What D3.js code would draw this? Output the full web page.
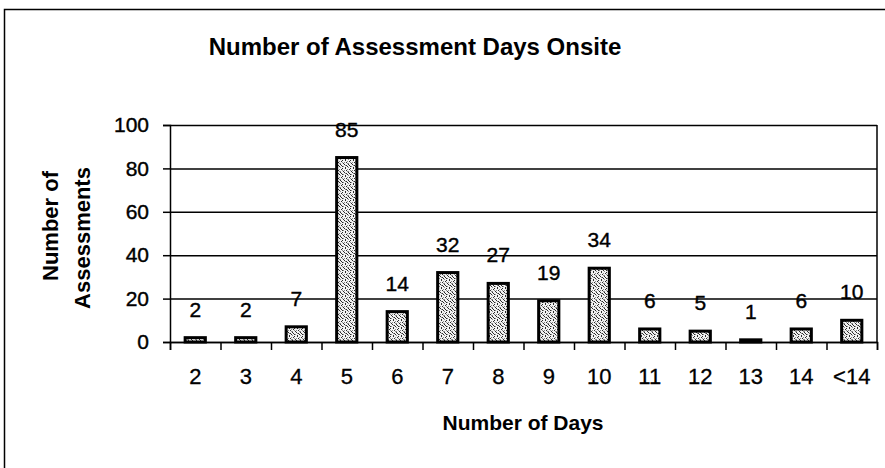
<!DOCTYPE html>
<html>
<head>
<meta charset="utf-8">
<script src="https://cdn.jsdelivr.net/npm/d3@7"></script>
<style>
  html, body { margin: 0; padding: 0; background: #fff; }
  svg { display: block; }
  text { font-family: "Liberation Sans", Arial, sans-serif; fill: #000; }
</style>
</head>
<body>
<script>
const categories = ["2", "3", "4", "5", "6", "7", "8", "9", "10", "11", "12", "13", "14", "<14"];
const values = [2, 2, 7, 85, 14, 32, 27, 19, 34, 6, 5, 1, 6, 10];
const yTicks = [0, 20, 40, 60, 80, 100];
const titleText = "Number of Assessment Days Onsite";
const xTitle = "Number of Days";
const yTitleLines = ["Number of", "Assessments"];

const W = 885, H = 468;
const plot = { left: 170, right: 877, top: 125, bottom: 342 };

const svg = d3.select("body").append("svg").attr("width", W).attr("height", H);

// speckle pattern for bars
const defs = svg.append("defs");
const pat = defs.append("pattern").attr("id", "stip").attr("patternUnits", "userSpaceOnUse")
  .attr("width", 8).attr("height", 8);
pat.append("rect").attr("width", 8).attr("height", 8).attr("fill", "#f2f2f2");
const darkDots = [[1,0],[5,1],[2,2],[7,3],[0,4],[4,4],[3,6],[6,6],[1,7],[5,5],[2,5],[6,0]];
const midDots = [[3,1],[0,2],[6,2],[4,3],[1,5],[7,6],[4,7],[3,3]];
darkDots.forEach(([a,b]) => pat.append("rect").attr("x", a).attr("y", b)
  .attr("width", 1).attr("height", 1).attr("fill", "#2a2a2a"));
midDots.forEach(([a,b]) => pat.append("rect").attr("x", a).attr("y", b)
  .attr("width", 1).attr("height", 1).attr("fill", "#8a8a8a"));

// outer frame (left & top edges visible)
svg.append("path").attr("d", `M4.5,${H} L4.5,9.5 L${W},9.5`)
  .attr("fill", "none").attr("stroke", "#000").attr("stroke-width", 1.5);

const x = d3.scaleBand().domain(categories).range([plot.left, plot.right])
  .paddingInner(0.6).paddingOuter(0.3);
const y = d3.scaleLinear().domain([0, 100]).range([plot.bottom, plot.top]);
const xEdges = d3.scaleLinear().domain([0, categories.length]).range([plot.left, plot.right]);

// gridlines
const grid = svg.append("g").attr("transform", `translate(${plot.left},0)`)
  .call(d3.axisLeft(y).tickValues(yTicks).tickSize(-(plot.right - plot.left)).tickFormat(""));
grid.select(".domain").remove();
grid.selectAll("line").attr("stroke", "#000").attr("stroke-width", 1.5);

// right border of plot
svg.append("line").attr("x1", plot.right).attr("x2", plot.right)
  .attr("y1", plot.top).attr("y2", plot.bottom).attr("stroke", "#000").attr("stroke-width", 1.5);

// bars
svg.append("g").selectAll("rect").data(values).join("rect")
  .attr("x", (d, i) => x(categories[i]))
  .attr("y", d => y(d))
  .attr("width", x.bandwidth())
  .attr("height", d => y(0) - y(d))
  .attr("fill", "url(#stip)")
  .attr("stroke", "#000").attr("stroke-width", 3);

// value labels
svg.append("g").selectAll("text").data(values).join("text")
  .attr("x", (d, i) => x(categories[i]) + x.bandwidth() / 2)
  .attr("y", d => y(d) - 21)
  .attr("text-anchor", "middle")
  .attr("font-size", 21)
  .attr("stroke", "#000").attr("stroke-width", 0.4)
  .text(d => d);

// y axis
const yAx = svg.append("g").attr("transform", `translate(${plot.left},0)`)
  .call(d3.axisLeft(y).tickValues(yTicks).tickSize(7).tickPadding(14));
yAx.select(".domain").attr("stroke", "#000").attr("stroke-width", 1.5);
yAx.selectAll("line").attr("stroke", "#000").attr("stroke-width", 1.5);
yAx.selectAll("text").attr("font-size", 21).attr("font-family", "Liberation Sans, Arial, sans-serif")
  .attr("fill", "#000").attr("stroke", "#000").attr("stroke-width", 0.4);

// x axis: edge ticks
const xTickAx = svg.append("g").attr("transform", `translate(0,${plot.bottom})`)
  .call(d3.axisBottom(xEdges).ticks(categories.length).tickSize(8).tickFormat(""));
xTickAx.select(".domain").attr("stroke", "#000").attr("stroke-width", 1.5);
xTickAx.selectAll("line").attr("stroke", "#000").attr("stroke-width", 1.5);

// x axis labels
const xAx = svg.append("g").attr("transform", `translate(0,${plot.bottom})`)
  .call(d3.axisBottom(x).tickSize(0).tickPadding(26));
xAx.select(".domain").remove();
xAx.selectAll("text").attr("font-size", 22).attr("font-family", "Liberation Sans, Arial, sans-serif")
  .attr("fill", "#000").attr("stroke", "#000").attr("stroke-width", 0.3);

// title
svg.append("text").attr("x", 415).attr("y", 55).attr("text-anchor", "middle")
  .attr("font-size", 24).attr("font-weight", "bold").text(titleText);

// x title
svg.append("text").attr("x", 523).attr("y", 430).attr("text-anchor", "middle")
  .attr("font-size", 21).attr("font-weight", "bold").text(xTitle);

// y title
const yCenters = [226, 238];
const yBase = [58, 90];
yTitleLines.forEach((t, i) => {
  svg.append("text")
    .attr("transform", `translate(${yBase[i]},${yCenters[i]}) rotate(-90)`)
    .attr("text-anchor", "middle")
    .attr("font-size", 22).attr("font-weight", "bold").text(t);
});
</script>
</body>
</html>
